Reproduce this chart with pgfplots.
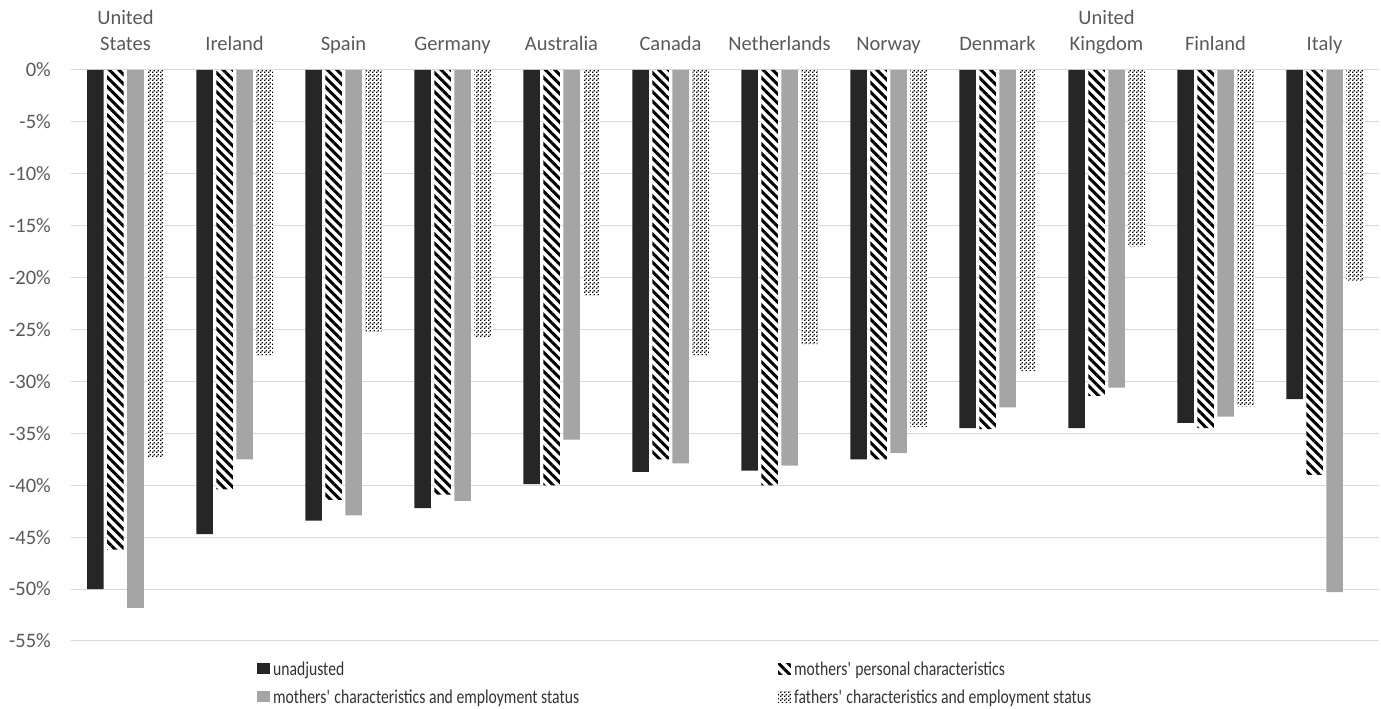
\documentclass[border=0pt]{standalone}
\usepackage{pgfplots}
\pgfplotsset{compat=1.18}
\usepackage{pgfplotstable}
\usepackage{fontspec}
\setmainfont{Carlito}
\newfontfamily\legendfont{Carlito}[FakeStretch=0.8]
\usetikzlibrary{patterns,patterns.meta}

\definecolor{barblack}{HTML}{262626}
\definecolor{bargrey}{HTML}{A5A5A5}
\definecolor{gridgrey}{HTML}{D9D9D9}
\definecolor{labelgrey}{HTML}{595959}
\definecolor{legendtext}{HTML}{333333}

% fine diagonal checker used for the fathers' series
\pgfdeclarepattern{
  name=finecheck,
  type=uncolored,
  bottom left={\pgfpoint{0pt}{0pt}},
  top right={\pgfpoint{4pt}{4pt}},
  tile size={\pgfpoint{4pt}{4pt}},
  code={
    \pgfpathrectangle{\pgfpoint{0pt}{0pt}}{\pgfpoint{1.7pt}{1.7pt}}
    \pgfpathrectangle{\pgfpoint{2pt}{2pt}}{\pgfpoint{1.7pt}{1.7pt}}
    \pgfusepath{fill}
  }
}

% gap (%) by country: 0 US, 1 Ireland, 2 Spain, 3 Germany, 4 Australia,
% 5 Canada, 6 Netherlands, 7 Norway, 8 Denmark, 9 UK, 10 Finland, 11 Italy
\pgfplotstableread{
idx unadj personal motheremp fatheremp
0  -50.0 -46.2 -51.8 -37.3
1  -44.7 -40.4 -37.5 -27.5
2  -43.4 -41.4 -42.9 -25.2
3  -42.2 -40.9 -41.5 -25.7
4  -39.9 -40.0 -35.6 -21.7
5  -38.7 -37.5 -37.9 -27.5
6  -38.6 -40.0 -38.1 -26.4
7  -37.5 -37.5 -36.9 -34.4
8  -34.5 -34.6 -32.5 -29.0
9  -34.5 -31.4 -30.6 -17.0
10 -34.0 -34.5 -33.4 -32.4
11 -31.7 -39.0 -50.3 -20.3
}\gaps

\pgfplotsset{
  sq legend/.style={legend image code/.code={
    \path[##1,draw=none] (0pt,-3pt) rectangle (12.6pt,8.3pt);}},
}

\begin{document}
\begin{tikzpicture}
\useasboundingbox (0,0) rectangle (1381pt,709pt);
\begin{axis}[
  at={(71pt,68pt)}, anchor=south west,
  scale only axis, width=1308pt, height=571pt,
  xmin=-0.5, xmax=11.5, ymin=-55, ymax=0,
  ybar=3.5pt, bar width=16.5pt,
  axis line style={draw=none}, tick style={draw=none},
  ymajorgrids, major grid style={gridgrey, line width=1pt},
  ytick={-55,-50,-45,-40,-35,-30,-25,-20,-15,-10,-5,0},
  yticklabels={-55\%,-50\%,-45\%,-40\%,-35\%,-30\%,-25\%,-20\%,-15\%,-10\%,-5\%,0\%},
  yticklabel style={anchor=east, inner sep=0pt, xshift=-20pt,
    font=\fontsize{20.5}{25}\selectfont, text=labelgrey},
  xtick={0,...,11},
  xticklabels={United\\States, Ireland, Spain, Germany, Australia, Canada,
    Netherlands, Norway, Denmark, United\\Kingdom, Finland, Italy},
  xticklabel pos=upper,
  xticklabel style={anchor=south, inner sep=0pt, text depth=5pt, yshift=10pt,
    align=center, font=\fontsize{20.5}{25.7}\selectfont, text=labelgrey},
  legend columns=2,
  legend cell align=left,
  legend style={at={(0.1422,-0.038)}, anchor=north west, draw=none, fill=none,
    inner sep=0pt, row sep=11pt,
    font=\legendfont\fontsize{19.6}{23}\selectfont, text=legendtext,
    nodes={inner sep=0pt, text height=13pt, text depth=4pt},
    /tikz/every odd column/.append style={column sep=3.3pt},
    /tikz/every even column/.append style={column sep=199pt}},
]
\addplot[fill=barblack, draw=none, sq legend] table[x=idx, y=unadj] {\gaps};
\addlegendentry{unadjusted}
\addplot[draw=none, preaction={fill=white},
  pattern={Lines[angle=-45, distance=6.7pt, line width=3pt]}, pattern color=black,
  sq legend] table[x=idx, y=personal] {\gaps};
\addlegendentry{mothers\textquotesingle\ personal characteristics}
\addplot[fill=bargrey, draw=none, sq legend] table[x=idx, y=motheremp] {\gaps};
\addlegendentry{mothers\textquotesingle\ characteristics and employment status}
\addplot[draw=none, preaction={fill=white},
  pattern=finecheck, pattern color=black,
  sq legend] table[x=idx, y=fatheremp] {\gaps};
\addlegendentry{fathers\textquotesingle\ characteristics and employment status}
\end{axis}
\end{tikzpicture}
\end{document}
